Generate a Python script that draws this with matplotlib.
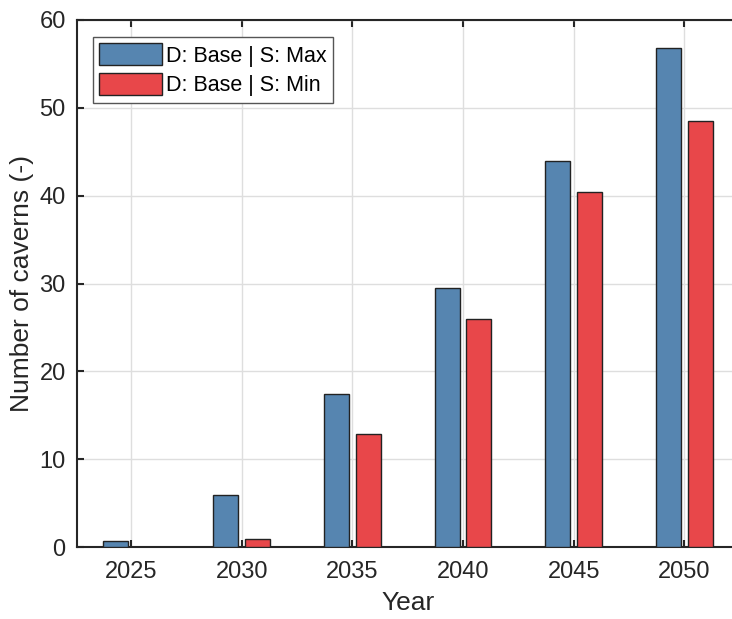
import numpy as np
import matplotlib
matplotlib.use('Agg')
import matplotlib.pyplot as plt

plt.rcParams['font.family'] = ['Liberation Sans', 'DejaVu Sans']

years = [2025, 2030, 2035, 2040, 2045, 2050]
s_max = [0.7, 5.9, 17.4, 29.5, 44.0, 56.8]
s_min = [0.0, 0.9, 12.9, 26.0, 40.4, 48.5]
labels = ['D: Base | S: Max', 'D: Base | S: Min']

fig = plt.figure(figsize=(7.32, 6.19), dpi=100)
ax = fig.add_axes([0.105, 0.1163, 0.904, 0.8514])

x = np.array(years, dtype=float)
w = 1.13
off = 0.72
ax.bar(x - off, s_max, width=w, color='#5685b0', edgecolor='#222222', linewidth=1.0, label=labels[0], zorder=3)
ax.bar(x + off, s_min, width=w, color='#e8474a', edgecolor='#222222', linewidth=1.0, label=labels[1], zorder=3)

ax.set_xlim(2022.55, 2052.45)
ax.set_ylim(0, 60)
ax.set_xticks(years)
ax.set_yticks(np.arange(0, 61, 10))
ax.grid(True, color='#dedede', linewidth=1.0, zorder=0)
ax.set_axisbelow(True)
ax.tick_params(direction='in', length=5, width=1.5, labelsize=17, colors='#262626', top=True, right=False)
ax.tick_params(axis='x', pad=10)
ax.tick_params(axis='y', pad=8)
for s in ax.spines.values():
    s.set_linewidth(1.5)
    s.set_color('#262626')
ax.spines['right'].set_visible(False)

ax.set_xlabel('Year', fontsize=19, color='#262626', labelpad=6)
ax.set_ylabel('Number of caverns (-)', fontsize=19, color='#262626', labelpad=4)

leg = ax.legend(loc='upper left', bbox_to_anchor=(0.024, 0.968), fontsize=15.5, fancybox=False,
                framealpha=1, edgecolor='#555555', handlelength=2.9, handleheight=1.2,
                borderpad=0.3, labelspacing=0.3, handletextpad=0.2, borderaxespad=0)
leg.get_frame().set_linewidth(1.0)

fig.savefig('out.png', dpi=100)
